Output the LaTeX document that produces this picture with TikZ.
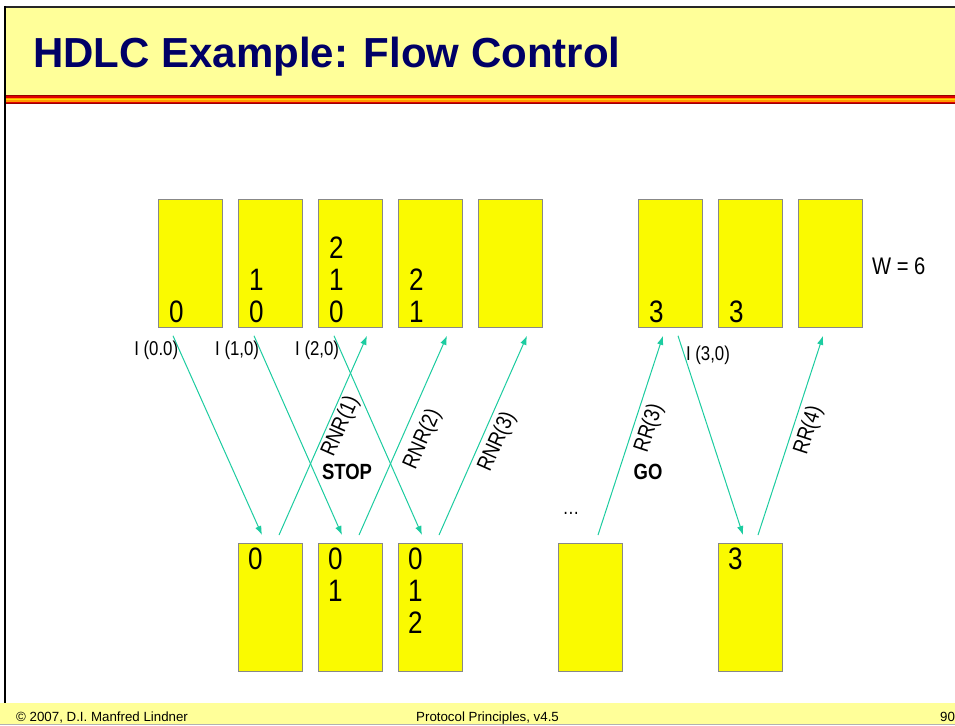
\documentclass[tikz,border=0pt]{standalone}
\usepackage{fontspec}
\usepackage{tikz}
\usetikzlibrary{arrows.meta}
\setmainfont{Liberation Sans}
\newfontfamily\slidefont[FakeStretch=0.84]{Liberation Sans}
\definecolor{TitleNavy}{HTML}{000066}
\definecolor{BandYellow}{HTML}{FFFF99}
\definecolor{BoxYellow}{HTML}{FAFA00}
\definecolor{BoxGray}{HTML}{888888}
\definecolor{MsgTeal}{HTML}{1CCCA0}
\definecolor{StripeDark}{HTML}{990000}
\definecolor{StripeRed}{HTML}{E00000}
\definecolor{StripeOrange}{HTML}{FF9900}
\definecolor{StripeGold}{HTML}{FFDD00}

\tikzset{
  frame/.style={fill=BoxYellow, draw=BoxGray, line width=0.8pt, minimum width=64pt, minimum height=128pt, inner sep=0pt},
  digits/.style={font=\slidefont\fontsize{31}{32}\selectfont, inner sep=0pt, align=left},
  msg/.style={draw=MsgTeal, line width=1pt, -{Latex[length=9pt,width=6.5pt]}},
  iname/.style={font=\slidefont\fontsize{20}{22}\selectfont, inner sep=1pt},
  rname/.style={font=\slidefont\fontsize{22}{24}\selectfont, sloped, below, inner sep=5pt, pos=0.53},
  state/.style={font=\slidefont\bfseries\fontsize{22}{24}\selectfont, inner sep=0pt}
}

\begin{document}
\begin{tikzpicture}[x=1pt,y=-1pt]
  \useasboundingbox (0,0) rectangle (955,725);
  \fill[white] (0,0) rectangle (955,725);
  % title band and stripe
  \fill[BandYellow] (6,7) rectangle (955,95);
  \draw[black!85, line width=1.5pt] (5,7) -- (955,7);
  \fill[StripeDark] (6,95) rectangle (955,104);
  \fill[StripeRed] (6,96) rectangle (955,103);
  \fill[StripeOrange] (6,97.5) rectangle (955,101.5);
  \fill[StripeGold] (6,98.8) rectangle (955,100.2);
  \draw[black, line width=2.2pt] (5,6) -- (5,703);
  \node[anchor=base west, inner sep=0pt, text=TitleNavy, font=\bfseries\fontsize{42}{46}\selectfont] (title) at (33,67) {HDLC Example: Flow Control};
  % footer
  \fill[BandYellow] (0,703) rectangle (955,724);
  \draw[black!30, line width=0.6pt] (0,724.5) -- (955,724.5);
  \node[anchor=base west, inner sep=0pt, font=\fontsize{13.3}{15}\selectfont] (copy) at (16,721) {\textcopyright{} 2007, D.I. Manfred Lindner};
  \node[anchor=base west, inner sep=0pt, font=\fontsize{13.3}{15}\selectfont] (course) at (416,721) {Protocol Principles, v4.5};
  \node[anchor=base west, inner sep=0pt, font=\fontsize{13.3}{15}\selectfont] (page) at (940,721) {90};

  % sender window
  \foreach \k in {0,1,2,3,4,6,7,8}
    \node[frame, anchor=north west] (s\k) at (158+80*\k,199) {};
  % receiver buffers
  \foreach \k in {1,2,3,5,7}
    \node[frame, anchor=north west] (r\k) at (158+80*\k,543) {};

  \node[digits, anchor=south west] (s0t) at ([xshift=11pt,yshift=5pt]s0.south west) {0};
  \node[digits, anchor=south west] (s1t) at ([xshift=11pt,yshift=5pt]s1.south west) {1\\0};
  \node[digits, anchor=south west] (s2t) at ([xshift=11pt,yshift=5pt]s2.south west) {2\\1\\0};
  \node[digits, anchor=south west] (s3t) at ([xshift=11pt,yshift=5pt]s3.south west) {2\\1};
  \node[digits, anchor=south west] (s6t) at ([xshift=11pt,yshift=5pt]s6.south west) {3};
  \node[digits, anchor=south west] (s7t) at ([xshift=11pt,yshift=5pt]s7.south west) {3};
  \node[digits, anchor=north west] (r1t) at ([xshift=10pt,yshift=-5pt]r1.north west) {0};
  \node[digits, anchor=north west] (r2t) at ([xshift=10pt,yshift=-5pt]r2.north west) {0\\1};
  \node[digits, anchor=north west] (r3t) at ([xshift=10pt,yshift=-5pt]r3.north west) {0\\1\\2};
  \node[digits, anchor=north west] (r7t) at ([xshift=10pt,yshift=-5pt]r7.north west) {3};
  \node[iname, anchor=west, font=\slidefont\fontsize{24}{26}\selectfont] (win) at (871,266) {W = 6};

  % I-frames
  \draw[msg] ([xshift=15pt,yshift=-8pt]s0.south west) -- node[iname, anchor=east, pos=0.075] (i0) {I (0.0)} ([xshift=24pt,yshift=8pt]r1.north west);
  \draw[msg] ([xshift=16pt,yshift=-8pt]s1.south west) -- node[iname, anchor=east, pos=0.075] (i1) {I (1,0)} ([xshift=24pt,yshift=8pt]r2.north west);
  \draw[msg] ([xshift=16pt,yshift=-8pt]s2.south west) -- node[iname, anchor=east, pos=0.075] (i2) {I (2,0)} ([xshift=24pt,yshift=8pt]r3.north west);
  \draw[msg] ([xshift=40pt,yshift=-8pt]s6.south west) -- node[iname, anchor=west, pos=0.1] (i3) {I (3,0)} ([xshift=25pt,yshift=8pt]r7.north west);
  % supervisory frames
  \draw[msg] ([xshift=41pt,yshift=8pt]r1.north west) -- node[rname, inner sep=2pt, pos=0.57] (n1) {RNR(1)} ([xshift=49pt,yshift=-8pt]s2.south west);
  \draw[msg] ([xshift=41pt,yshift=8pt]r2.north west) -- node[rname, inner sep=9pt, pos=0.52] (n2) {RNR(2)} ([xshift=49pt,yshift=-8pt]s3.south west);
  \draw[msg] ([xshift=41pt,yshift=8pt]r3.north west) -- node[rname, pos=0.5] (n3) {RNR(3)} ([xshift=49pt,yshift=-8pt]s4.south west);
  \draw[msg] ([xshift=40pt,yshift=8pt]r5.north west) -- node[rname, pos=0.56] (g3) {RR(3)} ([xshift=25pt,yshift=-8pt]s6.south west);
  \draw[msg] ([xshift=40pt,yshift=8pt]r7.north west) -- node[rname, pos=0.55] (g4) {RR(4)} ([xshift=25pt,yshift=-8pt]s8.south west);

  \node[state] (stop) at (347,472) {STOP};
  \node[state] (go) at (648,472) {GO};
  \node[iname] (more) at (571,513) {\dots};
\end{tikzpicture}
\end{document}
